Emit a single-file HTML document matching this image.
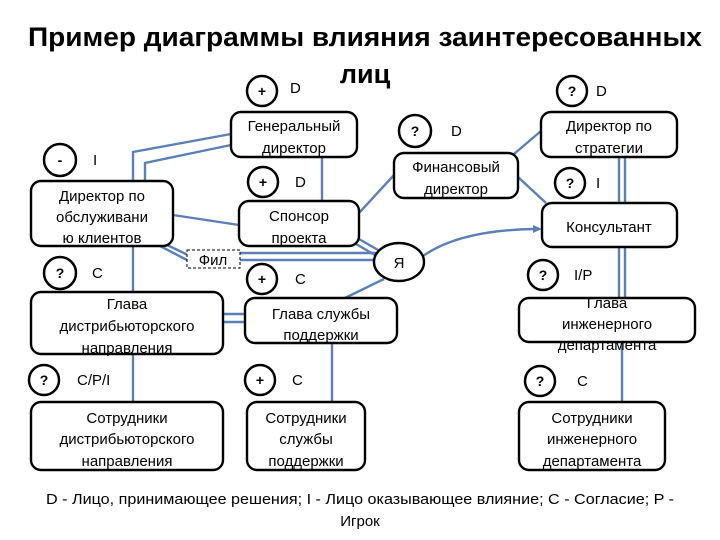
<!DOCTYPE html>
<html><head><meta charset="utf-8"><style>
html,body{margin:0;padding:0;background:#fff;}
svg{display:block;font-family:"Liberation Sans","DejaVu Sans",sans-serif;}
.b{fill:#fff;stroke:#000;stroke-width:2.4;}
.l{stroke:#5b80b8;stroke-width:2.4;fill:none;}
.t{font-size:15px;text-anchor:middle;fill:#000;}
.c{fill:#fff;stroke:#000;stroke-width:2.5;}
.s{font-size:14px;font-weight:bold;text-anchor:middle;}
.k{font-size:15px;}
</style></head><body>
<svg width="720" height="540" viewBox="0 0 720 540">
<text x="365" y="46" font-size="27" font-weight="bold" text-anchor="middle" textLength="674" lengthAdjust="spacingAndGlyphs">Пример диаграммы влияния заинтересованных</text>
<text x="365" y="83" font-size="27" font-weight="bold" text-anchor="middle">лиц</text>

<polyline class="l" points="231,134 133,152 133,292"/>
<polyline class="l" points="231,145 145,163 145,181"/>
<line class="l" x1="133" y1="354" x2="133" y2="402"/>
<line class="l" x1="322" y1="157" x2="322" y2="201"/>
<line class="l" x1="173" y1="215" x2="239" y2="225"/>
<line class="l" x1="160" y1="246" x2="187" y2="260"/>
<line class="l" x1="165" y1="244" x2="190" y2="256"/>
<line class="l" x1="240" y1="253" x2="376" y2="253"/>
<line class="l" x1="240" y1="260" x2="374" y2="260"/>
<line class="l" x1="359" y1="239" x2="378" y2="250"/>
<line class="l" x1="356" y1="244" x2="375" y2="255"/>
<line class="l" x1="359" y1="213" x2="394" y2="175"/>
<line class="l" x1="384" y1="279" x2="345" y2="298"/>
<line class="l" x1="223" y1="314" x2="245" y2="314"/>
<line class="l" x1="223" y1="322" x2="245" y2="322"/>
<line class="l" x1="332" y1="343" x2="332" y2="402"/>
<path class="l" d="M423,256 Q460,230 535,229"/>
<polygon points="542,229 533,225 533,233" fill="#5b80b8"/>
<line class="l" x1="514" y1="154" x2="541" y2="131"/>
<line class="l" x1="518" y1="177" x2="546" y2="203"/>
<line class="l" x1="619" y1="157" x2="619" y2="298"/>
<line class="l" x1="625" y1="157" x2="625" y2="298"/>
<line class="l" x1="622" y1="342" x2="622" y2="402"/>

<rect class="b" x="231" y="112" width="126" height="45" rx="10"/>
<text class="t" x="294" y="131">Генеральный</text><text class="t" x="294" y="153">директор</text>
<rect class="b" x="31" y="181" width="142" height="65" rx="10"/>
<text class="t" x="102" y="201">Директор по</text><text class="t" x="102" y="222">обслуживани</text><text class="t" x="102" y="243">ю клиентов</text>
<rect class="b" x="239" y="201" width="120" height="45" rx="10"/>
<text class="t" x="299" y="221">Спонсор</text><text class="t" x="299" y="243">проекта</text>
<rect class="b" x="394" y="153" width="124" height="45" rx="10"/>
<text class="t" x="456" y="172">Финансовый</text><text class="t" x="456" y="194">директор</text>
<rect class="b" x="541" y="112" width="136" height="45" rx="10"/>
<text class="t" x="609" y="131">Директор по</text><text class="t" x="609" y="153">стратегии</text>
<rect class="b" x="542" y="203" width="135" height="44" rx="10"/>
<text class="t" x="609" y="232">Консультант</text>
<rect class="b" x="31" y="292" width="192" height="62" rx="10"/>
<text class="t" x="127" y="309">Глава</text><text class="t" x="127" y="331">дистрибьюторского</text><text class="t" x="127" y="353">направления</text>
<rect class="b" x="245" y="298" width="152" height="45" rx="10"/>
<text class="t" x="321" y="319">Глава службы</text><text class="t" x="321" y="340">поддержки</text>
<rect class="b" x="519" y="298" width="176" height="44" rx="10"/>
<text class="t" x="607" y="308">Глава</text><text class="t" x="607" y="329">инженерного</text><text class="t" x="607" y="350">департамента</text>
<rect class="b" x="31" y="402" width="192" height="68" rx="10"/>
<text class="t" x="127" y="423">Сотрудники</text><text class="t" x="127" y="444">дистрибьюторского</text><text class="t" x="127" y="466">направления</text>
<rect class="b" x="247" y="402" width="118" height="68" rx="10"/>
<text class="t" x="306" y="423">Сотрудники</text><text class="t" x="306" y="444">службы</text><text class="t" x="306" y="466">поддержки</text>
<rect class="b" x="519" y="402" width="146" height="68" rx="10"/>
<text class="t" x="592" y="423">Сотрудники</text><text class="t" x="592" y="444">инженерного</text><text class="t" x="592" y="466">департамента</text>

<rect x="187" y="250" width="53" height="18" fill="#fff" stroke="#000" stroke-width="1" stroke-dasharray="3,2"/>
<text class="t" x="213" y="265">Фил</text>
<ellipse class="b" cx="399" cy="262" rx="25" ry="19"/>
<text class="t" x="399" y="268">Я</text>

<g>
<circle class="c" cx="262" cy="91" r="15"/><text class="s" x="262" y="96">+</text><text class="k" x="290" y="93">D</text>
<circle class="c" cx="60" cy="160" r="16"/><text class="s" x="60" y="165">-</text><text class="k" x="93" y="165">I</text>
<circle class="c" cx="263" cy="182" r="15"/><text class="s" x="263" y="187">+</text><text class="k" x="295" y="187">D</text>
<circle class="c" cx="60" cy="273" r="16"/><text class="s" x="60" y="278">?</text><text class="k" x="92" y="278">C</text>
<circle class="c" cx="262" cy="279" r="15"/><text class="s" x="262" y="284">+</text><text class="k" x="295" y="284">C</text>
<circle class="c" cx="415" cy="131" r="16"/><text class="s" x="415" y="136">?</text><text class="k" x="451" y="136">D</text>
<circle class="c" cx="572" cy="91" r="15"/><text class="s" x="572" y="96">?</text><text class="k" x="596" y="96">D</text>
<circle class="c" cx="570" cy="183" r="15"/><text class="s" x="570" y="188">?</text><text class="k" x="596" y="188">I</text>
<circle class="c" cx="543" cy="275" r="15"/><text class="s" x="543" y="280">?</text><text class="k" x="574" y="280">I/P</text>
<circle class="c" cx="44" cy="380" r="15"/><text class="s" x="44" y="385">?</text><text class="k" x="77" y="385">C/P/I</text>
<circle class="c" cx="260" cy="380" r="15"/><text class="s" x="260" y="385">+</text><text class="k" x="292" y="385">C</text>
<circle class="c" cx="540" cy="381" r="15"/><text class="s" x="540" y="386">?</text><text class="k" x="577" y="386">C</text>
</g>

<text x="360" y="504" font-size="15" text-anchor="middle" textLength="628" lengthAdjust="spacingAndGlyphs">D - Лицо, принимающее решения; I - Лицо оказывающее влияние; C - Согласие; P -</text>
<text x="360" y="526" font-size="15" text-anchor="middle">Игрок</text>
</svg>
</body></html>
